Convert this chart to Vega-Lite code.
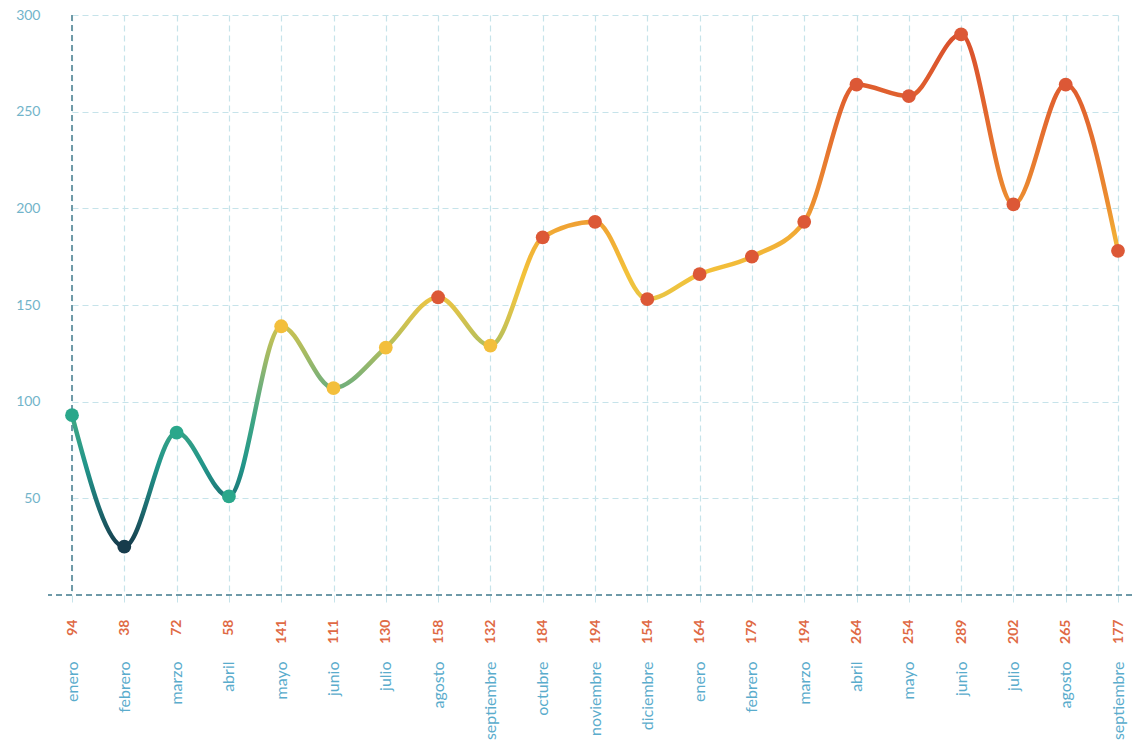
{
  "$schema": "https://vega.github.io/schema/vega-lite/v6.json",
  "width": 1133,
  "height": 750,
  "autosize": {"type": "fit", "contains": "padding"},
  "padding": {"left": 0, "top": 8, "right": 0, "bottom": 0},
  "background": "white",
  "config": {"view": {"stroke": null}, "font": "Lato"},
  "data": {
    "values": [
      {"clave": "01|94|enero", "valor": 93},
      {"clave": "02|38|febrero", "valor": 25},
      {"clave": "03|72|marzo", "valor": 84},
      {"clave": "04|58|abril", "valor": 51},
      {"clave": "05|141|mayo", "valor": 139},
      {"clave": "06|111|junio", "valor": 107},
      {"clave": "07|130|julio", "valor": 128},
      {"clave": "08|158|agosto", "valor": 154},
      {"clave": "09|132|septiembre", "valor": 129},
      {"clave": "10|184|octubre", "valor": 185},
      {"clave": "11|194|noviembre", "valor": 193},
      {"clave": "12|154|diciembre", "valor": 153},
      {"clave": "13|164|enero", "valor": 166},
      {"clave": "14|179|febrero", "valor": 175},
      {"clave": "15|194|marzo", "valor": 193},
      {"clave": "16|264|abril", "valor": 264},
      {"clave": "17|254|mayo", "valor": 258},
      {"clave": "18|289|junio", "valor": 290},
      {"clave": "19|202|julio", "valor": 202},
      {"clave": "20|265|agosto", "valor": 264},
      {"clave": "21|177|septiembre", "valor": 178}
    ]
  },
  "encoding": {
    "x": {"field": "clave", "type": "ordinal", "sort": null, "scale": {"type": "point", "range": [24, 1070], "padding": 0}},
    "y": {
      "field": "valor", "type": "quantitative",
      "scale": {"domain": [0, 300], "nice": false},
      "axis": {
        "values": [50, 100, 150, 200, 250, 300],
        "title": null, "domain": false, "ticks": false,
        "labelColor": "#72b4ca", "labelFontSize": 14, "labelPadding": 8,
        "minExtent": 48, "maxExtent": 48,
        "grid": true, "gridColor": "#c6e3ea", "gridDash": [6, 4], "gridWidth": 1.2
      }
    }
  },
  "layer": [
    {
      "mark": {"type": "rule", "color": "#6f9ba8", "strokeDash": [6, 4], "strokeWidth": 1.6},
      "encoding": {"x": {"datum": "01|94|enero", "type": "ordinal", "axis": null}, "y": null}
    },
    {
      "mark": {"type": "rule", "color": "#6f9ba8", "strokeDash": [6, 4], "strokeWidth": 1.6},
      "encoding": {"y": {"datum": 0, "type": "quantitative"}, "x": null}
    },
    {
      "mark": {
        "type": "line", "interpolate": "monotone", "strokeWidth": 4.5,
        "stroke": {
          "gradient": "linear", "x1": 0, "y1": 0, "x2": 0, "y2": 1,
          "stops": [
            {"offset": 0, "color": "#d9502c"},
            {"offset": 0.1, "color": "#df5d2e"},
            {"offset": 0.22, "color": "#e6742f"},
            {"offset": 0.33, "color": "#ec8e30"},
            {"offset": 0.39, "color": "#f1ab35"},
            {"offset": 0.47, "color": "#f3c23a"},
            {"offset": 0.52, "color": "#e8c445"},
            {"offset": 0.6, "color": "#b8bf5a"},
            {"offset": 0.67, "color": "#7fb276"},
            {"offset": 0.75, "color": "#3fa684"},
            {"offset": 0.84, "color": "#22968a"},
            {"offset": 0.92, "color": "#1d6e72"},
            {"offset": 1, "color": "#163d4d"}
          ]
        }
      },
      "encoding": {
        "x": {
          "field": "clave", "type": "ordinal", "sort": null,
          "axis": {
            "orient": "bottom", "title": null,
            "labelExpr": "split(datum.value, '|')[1]",
            "labelAngle": 270, "labelColor": "#df6a45", "labelFontWeight": "bold",
            "labelFontSize": 14, "labelPadding": 17,
            "ticks": true, "tickSize": 7, "tickColor": "#c6e3ea",
            "domain": false,
            "grid": true, "gridColor": "#c6e3ea", "gridDash": [6, 4], "gridWidth": 1.2,
            "maxExtent": 155
          }
        }
      }
    },
    {
      "mark": {"type": "point", "filled": true, "size": 190, "opacity": 1},
      "encoding": {
        "x": {
          "field": "clave", "type": "ordinal", "sort": null,
          "axis": {
            "orient": "bottom", "title": null,
            "labelExpr": "split(datum.value, '|')[2]",
            "labelAngle": 270, "labelColor": "#5aaccc",
            "labelFontSize": 16, "labelPadding": 66,
            "ticks": false, "domain": false, "grid": false,
            "minExtent": 155, "maxExtent": 155
          }
        },
        "color": {
          "field": "valor", "type": "quantitative",
          "scale": {"type": "threshold", "domain": [40, 100, 150], "range": ["#173c4c", "#2aa78b", "#f3bf3c", "#dc5836"]},
          "legend": null
        }
      }
    }
  ],
  "resolve": {"axis": {"x": "independent"}}
}
